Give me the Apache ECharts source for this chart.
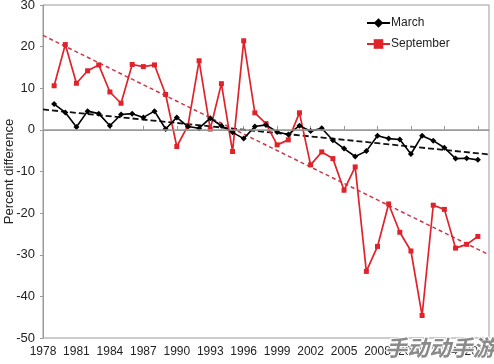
<!DOCTYPE html>
<html>
<head>
<meta charset="utf-8">
<script src="https://cdn.jsdelivr.net/npm/echarts@6/dist/echarts.min.js"></script>
<style>html,body{margin:0;padding:0;background:#fff;}#c{width:494px;height:364px;}</style>
</head>
<body>
<div id="c"></div>
<script>
const years = [1979,1980,1981,1982,1983,1984,1985,1986,1987,1988,1989,1990,1991,1992,1993,1994,1995,1996,1997,1998,1999,2000,2001,2002,2003,2004,2005,2006,2007,2008,2009,2010,2011,2012,2013,2014,2015,2016,2017];
const march = [6.2,4.2,0.7,4.5,3.9,1.0,3.7,3.9,3.0,4.5,0.2,3.0,0.8,0.4,2.8,1.0,-0.6,-2.1,0.8,1.2,-0.5,-1.1,1.0,-0.3,0.4,-2.5,-4.5,-6.4,-5.1,-1.4,-2.1,-2.3,-5.8,-1.4,-2.6,-4.3,-6.9,-6.8,-7.2];
const september = [10.6,20.5,11.2,14.2,15.6,9.1,6.4,15.7,15.2,15.6,8.5,-4.0,1.0,16.6,0.2,11.1,-5.2,21.4,4.1,1.5,-3.6,-2.4,4.1,-8.4,-5.3,-6.9,-14.5,-8.9,-34.0,-28.0,-17.8,-24.6,-29.1,-44.6,-18.1,-19.1,-28.4,-27.5,-25.6];
const trendYears = [1978, 2018];
const marchTrend = [4.9, -5.9];
const septemberTrend = [22.7, -30.0];
const seriesNames = ['March', 'September'];
const yAxisTitle = 'Percent difference';
const watermark = '手动动手游';

const font = 'Liberation Sans, Arial, sans-serif';
const zip = (xs, ys) => xs.map((x, i) => [x, ys[i]]);

const chart = echarts.init(document.getElementById('c'));
chart.setOption({
  animation: false,
  backgroundColor: '#fff',
  grid: { left: 43, right: 5, top: 5, bottom: 26, containLabel: false, outerBoundsMode: 'none',
    show: true, borderColor: '#9a9a9a', borderWidth: 1 },
  legend: {
    data: seriesNames,
    orient: 'vertical',
    left: 361, top: 12,
    itemWidth: 23, itemHeight: 12, itemGap: 9,
    textStyle: { fontFamily: font, fontSize: 12, color: '#222', padding: [0,0,0,-4] }
  },
  xAxis: {
    type: 'value', min: 1978, max: 2018, interval: 3,
    axisLine: { show: true, lineStyle: { color: '#9a9a9a', width: 1 } },
    axisTick: { show: true, inside: true, length: 4, lineStyle: { color: '#9a9a9a' } },
    axisLabel: { showMaxLabel: false, fontFamily: font, fontSize: 12, color: '#222', margin: 8,
      formatter: v => String(v) },
    splitLine: { show: false }
  },
  yAxis: {
    type: 'value', min: -50, max: 30, interval: 10,
    name: yAxisTitle, nameLocation: 'middle', nameGap: 27, nameRotate: 90, nameMoveOverlap: false,
    nameTextStyle: { fontFamily: font, fontSize: 13, color: '#222' },
    axisLine: { show: true, lineStyle: { color: '#9a9a9a', width: 1 } },
    axisTick: { show: true, length: 3, lineStyle: { color: '#9a9a9a' } },
    axisLabel: { fontFamily: font, fontSize: 13, color: '#222', margin: 8 },
    splitLine: { show: false }
  },
  series: [
    {
      name: 'zero', type: 'line', data: [], silent: true,
      markLine: { silent: true, symbol: 'none', label: { show: false },
        lineStyle: { color: '#9a9a9a', width: 1.5, type: 'solid' }, data: [{ yAxis: 0 }] }
    },
    {
      name: 'September trend', type: 'line', data: zip(trendYears, septemberTrend),
      showSymbol: false, lineStyle: { color: '#cf3545', width: 1.5, type: [4, 3] }, z: 1
    },
    {
      name: 'March trend', type: 'line', data: zip(trendYears, marchTrend),
      showSymbol: false, lineStyle: { color: '#111', width: 1.8, type: [6, 3] }, z: 1
    },
    {
      name: seriesNames[1], type: 'line', data: zip(years, september),
      symbol: 'rect', symbolSize: 5,
      lineStyle: { color: '#e0232b', width: 1.7 }, itemStyle: { color: '#e0232b' }, z: 3
    },
    {
      name: seriesNames[0], type: 'line', data: zip(years, march),
      symbol: 'diamond', symbolSize: 6,
      lineStyle: { color: '#000', width: 1.6 }, itemStyle: { color: '#000' }, z: 4
    }
  ],
  graphic: [{
    type: 'text', left: 384, top: 336, z: 100,
    style: { text: watermark, fontSize: 22, fontWeight: 'bold', fontStyle: 'italic',
      fontFamily: 'Noto Sans CJK SC', fill: '#8a8a8a', stroke: '#fff', lineWidth: 2 }
  }]
});
</script>
</body>
</html>
